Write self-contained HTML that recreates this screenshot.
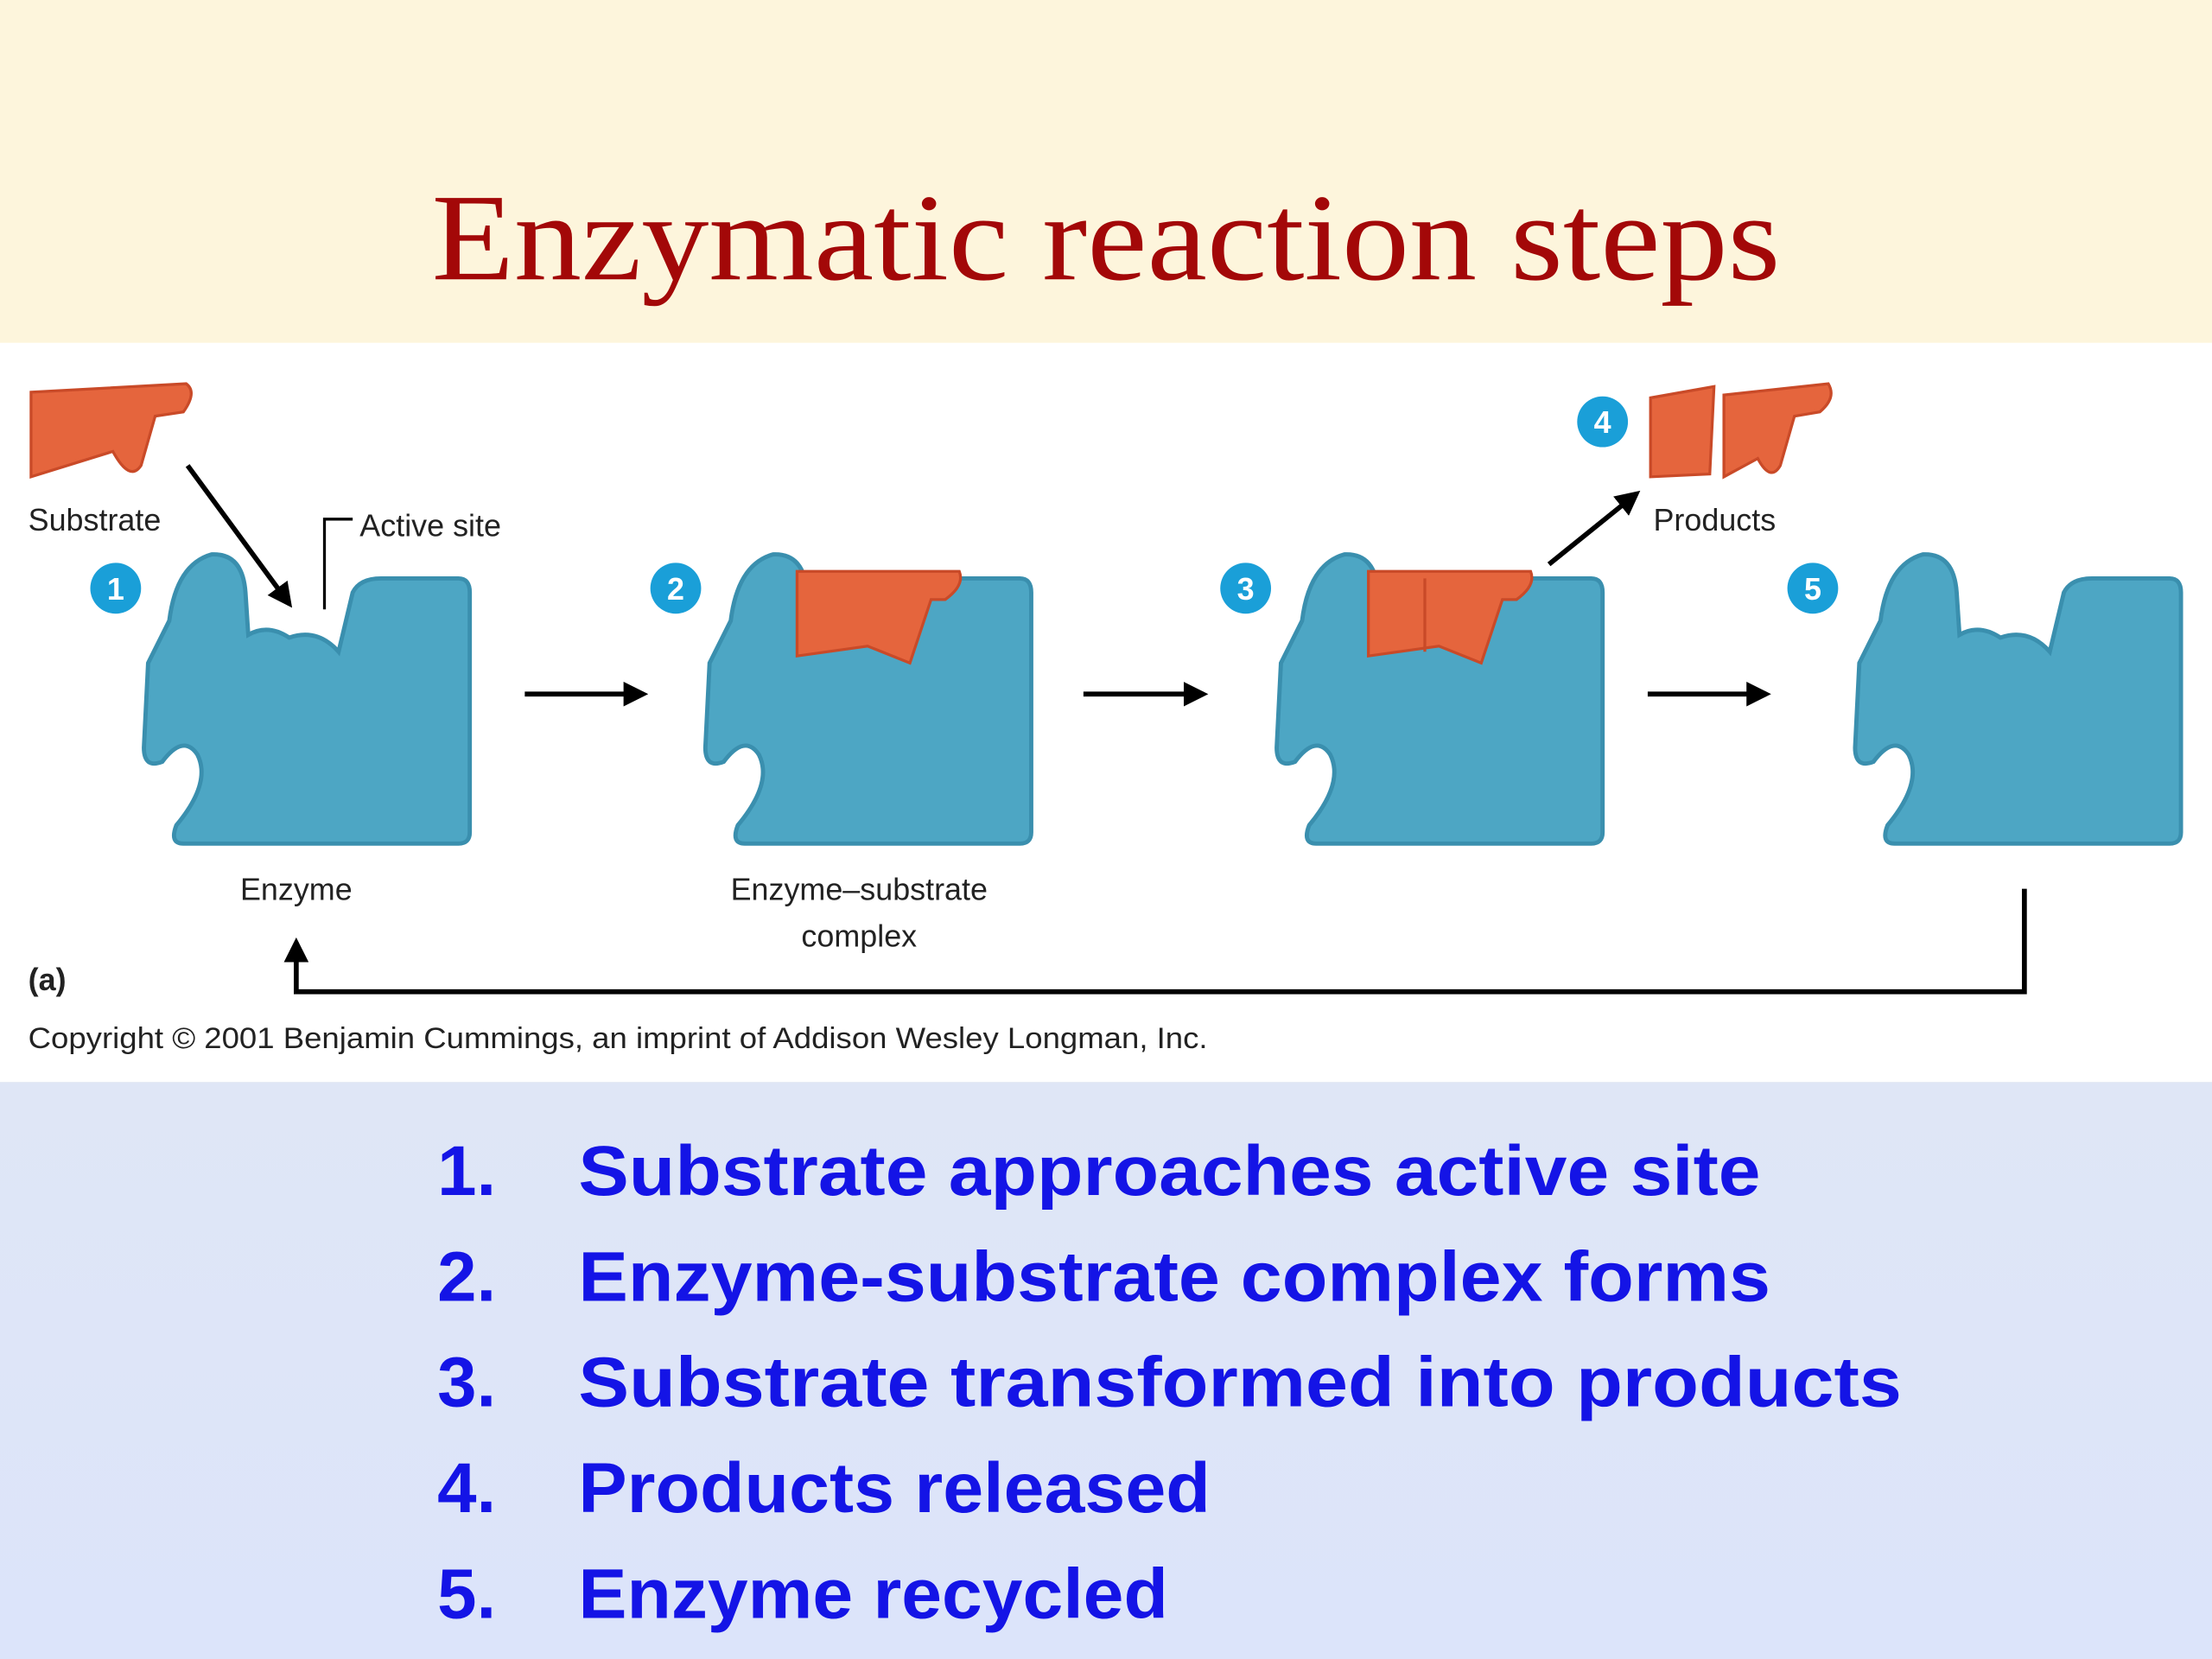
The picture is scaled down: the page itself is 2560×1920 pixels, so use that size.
<!DOCTYPE html>
<html><head><meta charset="utf-8"><style>
html,body{margin:0;padding:0;width:2560px;height:1920px;overflow:hidden;background:#fdf5dc}
svg{display:block}
</style></head><body>
<svg width="2560" height="1920" viewBox="0 0 1568 1176" xmlns="http://www.w3.org/2000/svg">
<defs>
<linearGradient id="bg" x1="0" y1="0" x2="0" y2="1">
<stop offset="0" stop-color="#dfe6f6"/><stop offset="1" stop-color="#dce4fa"/>
</linearGradient>
<path id="enz" d="M120,440 Q125,400 150,393 Q172,392 174,420 L176,450 Q190,442 205,452 Q225,445 240,462 L250,420 Q255,410 270,410 L325,410 Q333,410 333,420 L333,590 Q333,598 325,598 L130,598 Q120,598 125,585 Q150,555 140,535 Q130,520 115,540 Q102,545 102,530 L105,470 Z" fill="#4da6c4" stroke="#3a8fae" stroke-width="3"/>
<marker id="ah" markerWidth="5" markerHeight="5" refX="4" refY="2.5" orient="auto" markerUnits="strokeWidth"><path d="M0,0 L5,2.5 L0,5 Z" fill="#000"/></marker>
</defs>
<rect x="0" y="0" width="1568" height="243" fill="#fdf5dc"/>
<text x="784" y="198" text-anchor="middle" font-family="Liberation Serif, serif" font-size="88" fill="#a30808" textLength="956" lengthAdjust="spacingAndGlyphs">Enzymatic reaction steps</text>
<rect x="0" y="243" width="1568" height="524" fill="#ffffff"/>
<rect x="0" y="767" width="1568" height="409" fill="url(#bg)"/>

<g><use href="#enz"/></g>
<g><use href="#enz" transform="translate(398,0)"/>
<path d="M565,405 L680,405 Q684,415 670,425 L660,425 L645,470 L615,458 L565,465 Z" fill="#e5653d" stroke="#c94a28" stroke-width="2"/></g>
<g><use href="#enz" transform="translate(803,0)"/>
<path d="M970,405 L1085,405 Q1089,415 1075,425 L1065,425 L1050,470 L1020,458 L970,465 Z" fill="#e5653d" stroke="#c94a28" stroke-width="2"/>
<line x1="1010" y1="410" x2="1010" y2="462" stroke="#c94a28" stroke-width="2"/></g>
<g><use href="#enz" transform="translate(1213,0)"/></g>

<path d="M22,278 L132,272 Q140,278 130,292 L110,295 L100,330 Q92,342 80,320 L22,338 Z" fill="#e5653d" stroke="#c94a28" stroke-width="2"/>
<path d="M1170,282 L1215,274 L1212,336 L1170,338 Z" fill="#e5653d" stroke="#c94a28" stroke-width="2"/>
<path d="M1222,280 L1296,272 Q1302,282 1290,292 L1272,295 L1262,330 Q1255,342 1246,325 L1222,338 Z" fill="#e5653d" stroke="#c94a28" stroke-width="2"/>

<g stroke="#000" stroke-width="3.5" fill="none">
<line x1="133" y1="330" x2="205" y2="428" marker-end="url(#ah)"/>
<line x1="1098" y1="400" x2="1160" y2="350" marker-end="url(#ah)"/>
<line x1="372" y1="492" x2="456" y2="492" marker-end="url(#ah)"/>
<line x1="768" y1="492" x2="853" y2="492" marker-end="url(#ah)"/>
<line x1="1168" y1="492" x2="1252" y2="492" marker-end="url(#ah)"/>
<polyline points="1435,630 1435,703 210,703 210,668" marker-end="url(#ah)"/>
</g>
<polyline points="230,432 230,368 250,368" stroke="#000" stroke-width="2" fill="none"/>

<g font-family="Liberation Sans, sans-serif" font-weight="bold" font-size="22" fill="#fff" text-anchor="middle">
<circle cx="82" cy="417" r="18" fill="#1a9fd8"/><text x="82" y="425">1</text>
<circle cx="479" cy="417" r="18" fill="#1a9fd8"/><text x="479" y="425">2</text>
<circle cx="883" cy="417" r="18" fill="#1a9fd8"/><text x="883" y="425">3</text>
<circle cx="1136" cy="299" r="18" fill="#1a9fd8"/><text x="1136" y="307">4</text>
<circle cx="1285" cy="417" r="18" fill="#1a9fd8"/><text x="1285" y="425">5</text>
</g>

<g font-family="Liberation Sans, sans-serif" font-size="22" fill="#222">
<text x="20" y="376">Substrate</text>
<text x="255" y="380">Active site</text>
<text x="1172" y="376">Products</text>
<text x="210" y="638" text-anchor="middle">Enzyme</text>
<text x="609" y="638" text-anchor="middle">Enzyme–substrate</text>
<text x="609" y="671" text-anchor="middle">complex</text>
<text x="20" y="702" font-weight="bold">(a)</text>
<text x="20" y="743" font-size="21" textLength="836" lengthAdjust="spacingAndGlyphs">Copyright © 2001 Benjamin Cummings, an imprint of Addison Wesley Longman, Inc.</text>
</g>

<g font-family="Liberation Sans, sans-serif" font-weight="bold" font-size="50" fill="#1414e6">
<text x="310" y="847">1.</text>
<text x="410" y="847" textLength="838" lengthAdjust="spacingAndGlyphs">Substrate approaches active site</text>
<text x="310" y="922">2.</text>
<text x="410" y="922" textLength="845" lengthAdjust="spacingAndGlyphs">Enzyme-substrate complex forms</text>
<text x="310" y="997">3.</text>
<text x="410" y="997" textLength="938" lengthAdjust="spacingAndGlyphs">Substrate transformed into products</text>
<text x="310" y="1072">4.</text>
<text x="410" y="1072" textLength="448" lengthAdjust="spacingAndGlyphs">Products released</text>
<text x="310" y="1147">5.</text>
<text x="410" y="1147" textLength="418" lengthAdjust="spacingAndGlyphs">Enzyme recycled</text>
</g>
</svg>
</body></html>
